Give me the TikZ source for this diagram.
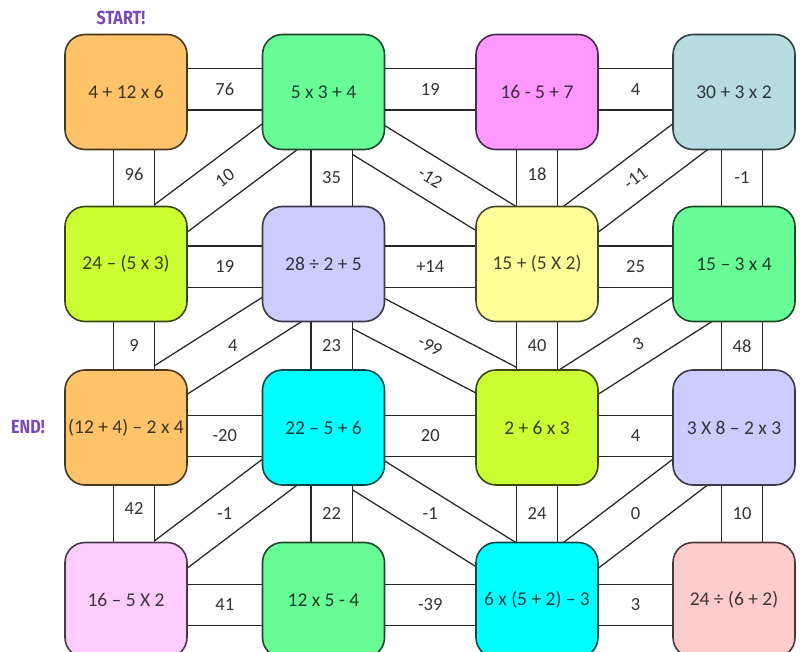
\documentclass[tikz,border=0pt]{standalone}
\usepackage{fontspec}
\setmainfont{Carlito}
\newfontfamily\handfont{Fira Sans}
\usetikzlibrary{backgrounds}

\definecolor{boxorange}{HTML}{FFC46A}
\definecolor{boxgreen}{HTML}{69FD98}
\definecolor{boxpink}{HTML}{FF99FF}
\definecolor{boxgrey}{HTML}{B7DCDF}
\definecolor{boxlime}{HTML}{CCFF33}
\definecolor{boxlilac}{HTML}{CCCCFF}
\definecolor{boxyellow}{HTML}{FFFF99}
\definecolor{boxcyan}{HTML}{00FFFF}
\definecolor{boxrose}{HTML}{FFCCFF}
\definecolor{boxsalmon}{HTML}{FFCCCC}
\definecolor{flagpurple}{HTML}{7A48B8}

\begin{document}
\begin{tikzpicture}[x=1pt,y=-1pt,
  box/.style={draw=#1!28!black, fill=#1, text=#1!25!black, line width=1.6pt,
    rounded corners=20pt, minimum width=122pt, minimum height=115pt,
    inner sep=2pt, font=\fontsize{19.5}{21}\selectfont},
  bar/.style={line width=1.4pt, draw=black!85, double=white, double distance=40pt},
  dbar/.style={bar, shorten >=-50pt, shorten <=-50pt},
  num/.style={font=\fontsize{18.5}{20}\selectfont, text=black!80, inner sep=1pt},
  flag/.style={font=\handfont\bfseries\fontsize{19}{20}\selectfont, text=flagpurple, xscale=0.85}]

\useasboundingbox (0,0) rectangle (802,652);

\node[flag] (start) at (121,18) {START!};
\node[flag] (end) at (28,427) {END!};

\node[box=boxorange] (b11) at (126,92) {4 + 12 x 6};
\node[box=boxgreen] (b12) at (323.5,92) {5 x 3 + 4};
\node[box=boxpink] (b13) at (537,92) {16 - 5 + 7};
\node[box=boxgrey] (b14) at (734,92) {30 + 3 x 2};

\node[box=boxlime] (b21) at (126,264) {24 – (5 x 3)};
\node[box=boxlilac] (b22) at (323.5,264) {28 ÷ 2 + 5};
\node[box=boxyellow] (b23) at (537,264) {15 + (5 X 2)};
\node[box=boxgreen] (b24) at (734,264) {15 – 3 x 4};

\node[box=boxorange] (b31) at (126,427.5) {(12 + 4) – 2 x 4};
\node[box=boxcyan] (b32) at (323.5,427.5) {22 – 5 + 6};
\node[box=boxlime] (b33) at (537,427.5) {2 + 6 x 3};
\node[box=boxlilac] (b34) at (734,427.5) {3 X 8 – 2 x 3};

\node[box=boxrose] (b41) at (126,600) {16 – 5 X 2};
\node[box=boxgreen] (b42) at (323.5,600) {12 x 5 - 4};
\node[box=boxcyan] (b43) at (537,600) {6 x (5 + 2) – 3};
\node[box=boxsalmon] (b44) at (734,600) {24 ÷ (6 + 2)};

\begin{scope}[on background layer]
\draw[bar] ([yshift=2.5pt]b11.center) -- node[num]{76} ([yshift=2.5pt]b12.center);
\draw[bar] ([yshift=2.5pt]b12.center) -- node[num]{19} ([yshift=2.5pt]b13.center);
\draw[bar] ([yshift=2.5pt]b13.center) -- node[num]{4} ([yshift=2.5pt]b14.center);

\draw[bar] ([yshift=-2.5pt]b21.center) -- node[num]{19} ([yshift=-2.5pt]b22.center);
\draw[bar] ([yshift=-2.5pt]b22.center) -- node[num]{+14} ([yshift=-2.5pt]b23.center);
\draw[bar] ([yshift=-2.5pt]b23.center) -- node[num]{25} ([yshift=-2.5pt]b24.center);

\draw[bar] ([yshift=-8.5pt]b31.center) -- node[num]{-20} ([yshift=-8.5pt]b32.center);
\draw[bar] ([yshift=-8.5pt]b32.center) -- node[num]{20} ([yshift=-8.5pt]b33.center);
\draw[bar] ([yshift=-8.5pt]b33.center) -- node[num]{4} ([yshift=-8.5pt]b34.center);

\draw[bar] ([yshift=-5pt]b41.center) -- node[num]{41} ([yshift=-5pt]b42.center);
\draw[bar] ([yshift=-5pt]b42.center) -- node[num]{-39} ([yshift=-5pt]b43.center);
\draw[bar] ([yshift=-5pt]b43.center) -- node[num]{3} ([yshift=-5pt]b44.center);

\draw[dbar] (b12.south west) -- node[num,sloped]{10} (b21.north east);
\draw[dbar] (b12.south east) -- node[num,sloped]{-12} (b23.north west);
\draw[dbar] (b14.south west) -- node[num,sloped]{-11} (b23.north east);
\draw[dbar] (b22.south west) -- node[num,xshift=8pt]{4} (b31.north east);
\draw[dbar] (b22.south east) -- node[num,sloped]{-99} (b33.north west);
\draw[dbar] (b24.south west) -- node[num,sloped,xshift=3pt]{3} (b33.north east);
\draw[dbar] (b32.south west) -- node[num]{-1} (b41.north east);
\draw[dbar] (b32.south east) -- node[num]{-1} (b43.north west);
\draw[dbar] (b34.south west) -- node[num]{0} (b43.north east);

\draw[bar] ([xshift=8pt]b11.center) -- node[num,yshift=4pt]{96} ([xshift=8pt]b21.center);
\draw[bar] ([xshift=8pt]b12.center) -- node[num]{35} ([xshift=8pt]b22.center);
\draw[bar] (b13.center) -- node[num,yshift=4pt]{18} (b23.center);
\draw[bar] ([xshift=8pt]b14.center) -- node[num]{-1} ([xshift=8pt]b24.center);

\draw[bar] ([xshift=8pt]b21.center) -- node[num]{9} ([xshift=8pt]b31.center);
\draw[bar] ([xshift=8pt]b22.center) -- node[num]{23} ([xshift=8pt]b32.center);
\draw[bar] (b23.center) -- node[num]{40} (b33.center);
\draw[bar] ([xshift=8pt]b24.center) -- node[num]{48} ([xshift=8pt]b34.center);

\draw[bar] ([xshift=8pt]b31.center) -- node[num,yshift=5pt]{42} ([xshift=8pt]b41.center);
\draw[bar] ([xshift=8pt]b32.center) -- node[num]{22} ([xshift=8pt]b42.center);
\draw[bar] (b33.center) -- node[num]{24} (b43.center);
\draw[bar] ([xshift=8pt]b34.center) -- node[num]{10} ([xshift=8pt]b44.center);
\end{scope}

\end{tikzpicture}
\end{document}
